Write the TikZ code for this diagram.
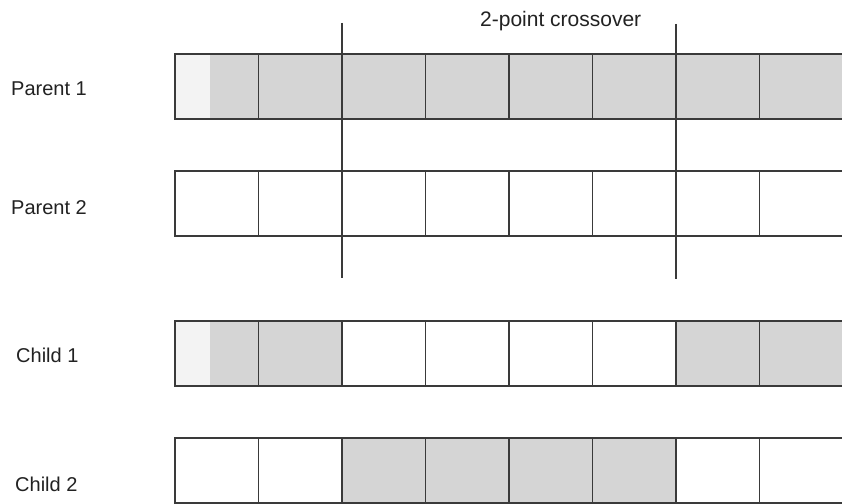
\documentclass[tikz,border=0pt]{standalone}
\usepackage{fontspec}
\setmainfont{Liberation Sans}
\definecolor{lineC}{HTML}{3A3A3A}
\definecolor{shadeC}{HTML}{D5D5D5}
\definecolor{paleC}{HTML}{F3F3F3}
\definecolor{txtC}{HTML}{222222}
\begin{document}
\begin{tikzpicture}[x=1pt,y=-1pt,
  cell/.style={draw=lineC, line width=1.2pt, minimum width=83.5pt, minimum height=65pt,
    inner sep=0pt, outer sep=0pt, anchor=north west},
  shaded/.style={cell, fill=shadeC},
  plain/.style={cell, fill=white},
  lbl/.style={anchor=base west, inner sep=0pt, text=txtC, font=\fontsize{20}{24}\selectfont},
  cut/.style={draw=lineC, line width=1.2pt}]
\useasboundingbox (0,0) rectangle (842,503);
\fill[white] (0,0) rectangle (842,503);
% Parent 1: all shaded (left part of first cell pale)
\foreach \i in {1,...,8}{
  \node[shaded] (p1c\i) at ({175+83.5*(\i-1)},54) {};
}
\fill[paleC] (175.6,54.6) rectangle (210,118.4);
% Parent 2: all plain
\foreach \i in {1,...,8}{
  \node[plain] (p2c\i) at ({175+83.5*(\i-1)},171) {};
}
% Child 1
\foreach \i/\s in {1/shaded,2/shaded,3/plain,4/plain,5/plain,6/plain,7/shaded,8/shaded}{
  \node[\s] (c1c\i) at ({175+83.5*(\i-1)},321) {};
}
\fill[paleC] (175.6,321.6) rectangle (210,385.4);
% Child 2
\foreach \i/\s in {1/plain,2/plain,3/shaded,4/shaded,5/shaded,6/shaded,7/plain,8/plain}{
  \node[\s] (c2c\i) at ({175+83.5*(\i-1)},438) {};
}
% crossover lines
\coordinate (xa1) at (342,23);
\coordinate (xa2) at (342,278);
\coordinate (xb1) at (676,24);
\coordinate (xb2) at (676,279);
\draw[cut] (xa1) -- (xa2);
\draw[cut] (xb1) -- (xb2);
% labels
\node[lbl, font=\fontsize{21}{25}\selectfont] (title) at (480,27) {2-point crossover};
\node[lbl] (lp1) at (11,95) {Parent 1};
\node[lbl] (lp2) at (11,214) {Parent 2};
\node[lbl] (lc1) at (16,362) {Child 1};
\node[lbl] (lc2) at (15,491) {Child 2};
\end{tikzpicture}
\end{document}
